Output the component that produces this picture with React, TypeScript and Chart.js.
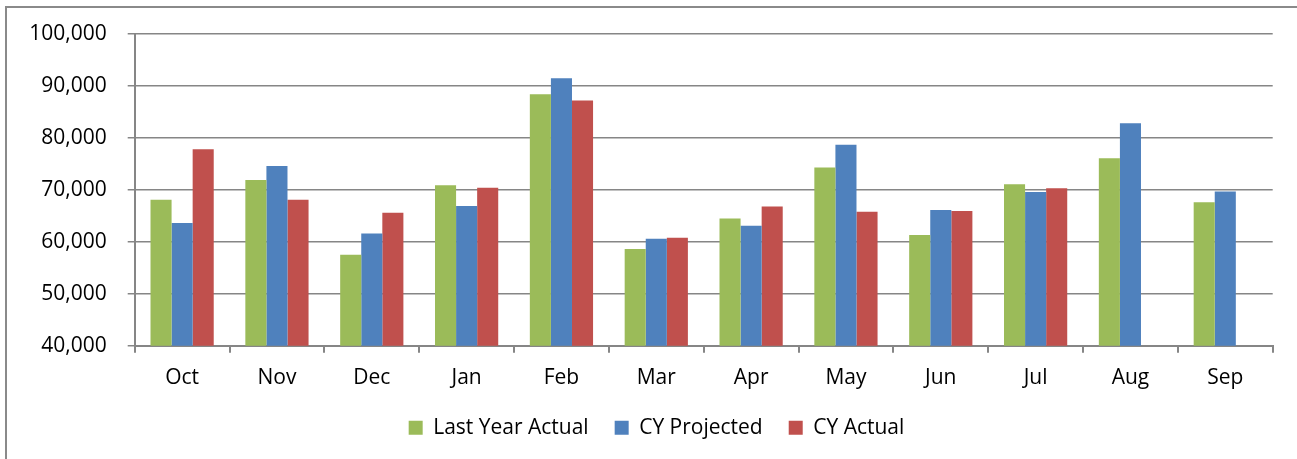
import React, { useEffect, useRef } from "react";
import { Chart, registerables } from "chart.js";

Chart.register(...registerables);

const categories = ["Oct", "Nov", "Dec", "Jan", "Feb", "Mar", "Apr", "May", "Jun", "Jul", "Aug", "Sep"];
const lastYearActual = [68100, 71900, 57500, 70900, 88400, 58600, 64500, 74300, 61300, 71100, 76100, 67600];
const cyProjected = [63600, 74600, 61600, 66900, 91500, 60600, 63100, 78700, 66100, 69600, 82800, 69700];
const cyActual: (number | null)[] = [77800, 68100, 65600, 70400, 87200, 60800, 66800, 65800, 65950, 70300, null, null];
const seriesNames = ["Last Year Actual", "CY Projected", "CY Actual"];
const seriesColors = ["#9BBB59", "#4F81BD", "#C0504D"];
const yMin = 40000;
const yMax = 100000;
const yStep = 10000;

const W = 1299;
const H = 460;
const FONT = { family: "'Open Sans'", size: 21 };
const GRID = "#868686";

export default function App() {
  const ref = useRef<HTMLCanvasElement>(null);

  useEffect(() => {
    if (!ref.current) return;
    const chart = new Chart(ref.current, {
      type: "bar",
      data: {
        labels: categories,
        datasets: [lastYearActual, cyProjected, cyActual].map((d, i) => ({
          label: seriesNames[i],
          data: d,
          backgroundColor: seriesColors[i],
          borderWidth: 0,
          categoryPercentage: 2 / 3,
          barPercentage: 1,
        })),
      },
      options: {
        responsive: false,
        animation: false,
        layout: { padding: { top: 26, left: 0, right: 0, bottom: 19.8 } },
        plugins: {
          legend: {
            position: "bottom",
            labels: {
              boxWidth: 14,
              boxHeight: 14,
              padding: 26,
              color: "#000",
              font: FONT,
            },
          },
          tooltip: { enabled: false },
        },
        scales: {
          x: {
            grid: {
              drawOnChartArea: false,
              drawTicks: true,
              tickLength: 7,
              color: GRID,
              lineWidth: 2,
              offset: true,
            },
            border: { color: GRID, width: 2 },
            ticks: { padding: 12.5, color: "#000", font: FONT, maxRotation: 0 },
            afterFit: (s: any) => {
              s.height = 45.5;
            },
          },
          y: {
            min: yMin,
            max: yMax,
            ticks: { stepSize: yStep, padding: 21, color: "#000", font: FONT },
            grid: { color: GRID, lineWidth: 1.5, tickLength: 7 },
            border: { color: GRID, width: 2 },
            afterFit: (s: any) => {
              s.width = 127.7;
              s.paddingTop = 0;
              s.paddingBottom = 0;
            },
          },
          y2: {
            position: "right",
            display: true,
            grid: { display: false },
            border: { display: false },
            ticks: { display: false },
            afterFit: (s: any) => {
              s.width = 33.3;
              s.paddingTop = 0;
              s.paddingBottom = 0;
            },
          },
        },
      } as any,
    });
    return () => chart.destroy();
  }, []);

  return (
    <div
      style={{
        position: "absolute",
        left: 0,
        top: 0,
        width: 1297,
        height: 459,
        overflow: "hidden",
        background: "#fff",
      }}
    >
      <div
        style={{
          position: "absolute",
          left: 5,
          top: 6,
          width: W,
          height: H,
          border: "2px solid #8a8a8a",
        }}
      >
        <canvas ref={ref} width={W} height={H} style={{ display: "block" }} />
      </div>
    </div>
  );
}
